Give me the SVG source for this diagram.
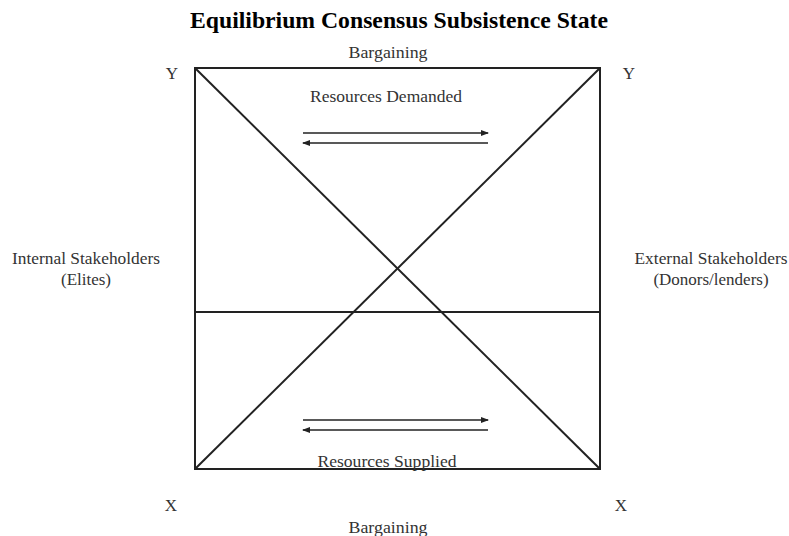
<svg xmlns="http://www.w3.org/2000/svg" width="789" height="536" viewBox="0 0 789 536">
<style>
.t{font-family:"Liberation Serif",serif;font-size:17px;fill:#333;text-anchor:middle}
.title{font-family:"Liberation Serif",serif;font-size:23px;font-weight:bold;fill:#000;text-anchor:middle}
.ln{stroke:#222;stroke-width:2;fill:none}
.ar{stroke:#222;stroke-width:1.6;fill:none}
</style>
<defs>
<marker id="ah" markerWidth="8" markerHeight="6" refX="7" refY="3" orient="auto" markerUnits="userSpaceOnUse">
<path d="M0,0 L8,3 L0,6 Z" fill="#222"/>
</marker>
</defs>
<rect width="789" height="536" fill="#fff"/>
<text class="title" x="399" y="28" textLength="418" lengthAdjust="spacingAndGlyphs">Equilibrium Consensus Subsistence State</text>
<g id="frame">
<rect class="ln" x="195" y="68" width="405" height="401"/>
<line class="ln" x1="195" y1="312" x2="600" y2="312"/>
</g>
<g id="connectors">
<line class="ln" x1="195" y1="68" x2="600" y2="469"/>
<line class="ln" x1="195" y1="469" x2="600" y2="68"/>
<line class="ar" x1="303" y1="133" x2="488" y2="133" marker-end="url(#ah)"/>
<line class="ar" x1="488" y1="143" x2="303" y2="143" marker-end="url(#ah)"/>
<line class="ar" x1="303" y1="420" x2="488" y2="420" marker-end="url(#ah)"/>
<line class="ar" x1="488" y1="430" x2="303" y2="430" marker-end="url(#ah)"/>
</g>
<g id="labels">
<text class="t" x="388" y="58" textLength="79" lengthAdjust="spacingAndGlyphs">Bargaining</text>
<text class="t" x="386" y="102" textLength="152" lengthAdjust="spacingAndGlyphs">Resources Demanded</text>
<text class="t" x="387" y="467" textLength="139" lengthAdjust="spacingAndGlyphs">Resources Supplied</text>
<text class="t" x="172" y="79">Y</text>
<text class="t" x="629" y="79">Y</text>
<text class="t" x="171" y="511">X</text>
<text class="t" x="621" y="511">X</text>
<text class="t" x="388" y="533" textLength="79" lengthAdjust="spacingAndGlyphs">Bargaining</text>
<text class="t" x="86" y="264" textLength="148" lengthAdjust="spacingAndGlyphs">Internal Stakeholders</text>
<text class="t" x="86" y="285">(Elites)</text>
<text class="t" x="711" y="264" textLength="153" lengthAdjust="spacingAndGlyphs">External Stakeholders</text>
<text class="t" x="711" y="285">(Donors/lenders)</text>
</g>
</svg>
